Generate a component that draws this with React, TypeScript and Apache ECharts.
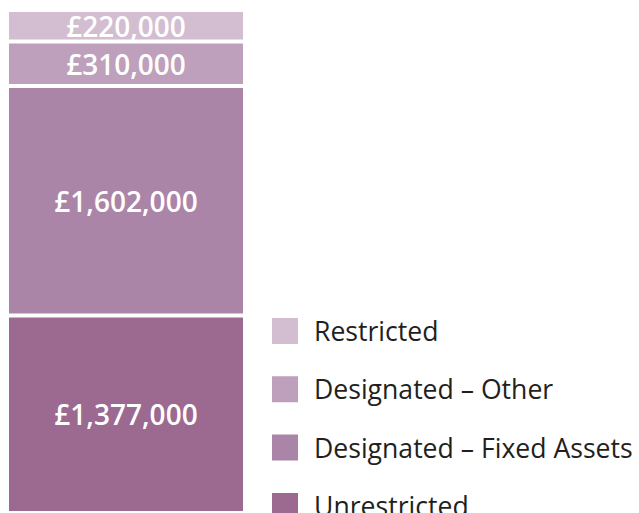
import React, { useEffect, useRef } from "react";
import * as echarts from "echarts";

const categories = ["Funds"];
const seriesNames = ["Unrestricted", "Designated – Fixed Assets", "Designated – Other", "Restricted"];
const seriesValues = [1377000, 1602000, 310000, 220000];
const seriesColors = ["#9c6991", "#ab85a8", "#be9fbc", "#d2bdd1"];
const legendOrder = ["Restricted", "Designated – Other", "Designated – Fixed Assets", "Unrestricted"];

const fmt = (v: number) => "£" + v.toLocaleString("en-GB");

export default function App() {
  const ref = useRef<HTMLDivElement>(null);
  useEffect(() => {
    if (!ref.current) return;
    const chart = echarts.init(ref.current, undefined, { renderer: "svg" });
    const total = seriesValues.reduce((a, b) => a + b, 0);
    chart.setOption({
      animation: false,
      grid: { left: 7, top: 10, width: 238, bottom: 0 },
      xAxis: { type: "category", data: categories, show: false },
      yAxis: { type: "value", min: 0, max: total, show: false },
      legend: legendOrder.map((name, i) => ({
        orient: "vertical",
        left: 270,
        top: 316 + i * 58.3,
        padding: 0,
        itemWidth: 28,
        itemHeight: 28,
        icon: "rect",
        data: [name],
        textStyle: {
          fontFamily: "Open Sans",
          fontSize: 26.6,
          color: "#231f20",
          lineHeight: 28,
          padding: [0, 0, 0, 10],
        },
      })),
      series: seriesNames.map((name, i) => ({
        name,
        type: "bar",
        stack: "total",
        barWidth: 238,
        data: [seriesValues[i]],
        itemStyle: { color: seriesColors[i], borderColor: "#ffffff", borderWidth: 2 },
        label: {
          show: true,
          position: "inside",
          formatter: (p: any) => fmt(p.value),
          color: "#ffffff",
          fontFamily: "Open Sans",
          fontWeight: 600,
          fontSize: 28,
        },
      })),
    });
    return () => chart.dispose();
  }, []);
  return (
    <div
      ref={ref}
      style={{ position: "absolute", left: 0, top: 0, width: 639, height: 513, background: "#ffffff" }}
    />
  );
}
